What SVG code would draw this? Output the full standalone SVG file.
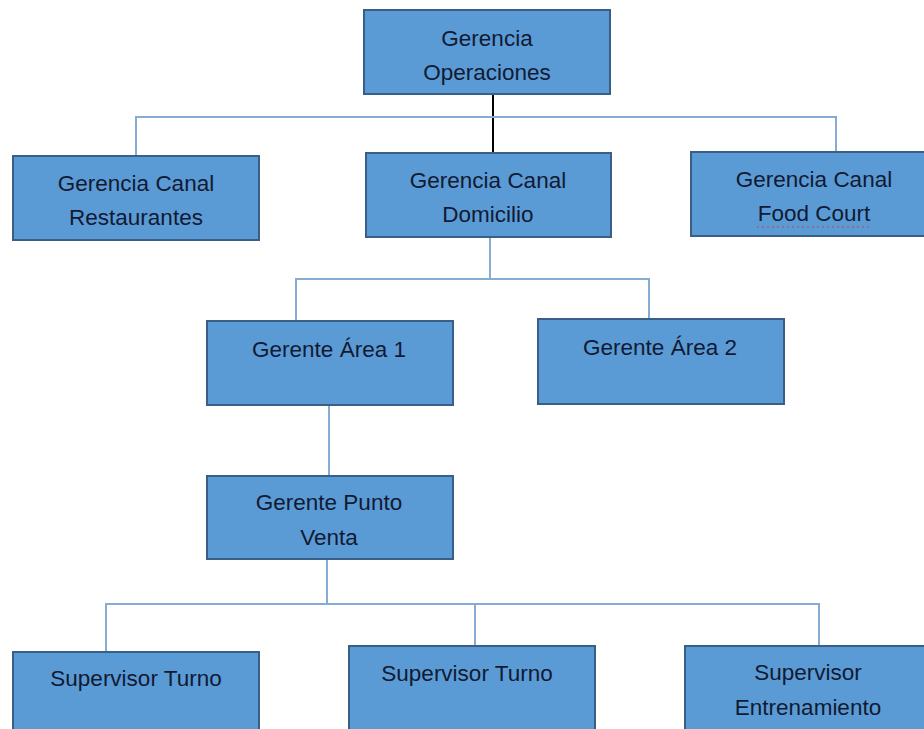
<svg xmlns="http://www.w3.org/2000/svg" width="924" height="729" viewBox="0 0 924 729">
<style>
.box{fill:#5b9bd5;stroke:#3a5f86;stroke-width:2}
.t{font-family:"Liberation Sans",Arial,sans-serif;font-size:22.5px;fill:#111a33;text-anchor:middle}
.c{stroke:#86acd4;stroke-width:2;fill:none}
.k{stroke:#000;stroke-width:2;fill:none}
</style>
<rect width="924" height="729" fill="#fff"/>
<g id="connectors">
<line class="k" x1="493" y1="94" x2="493" y2="153"/>
<polyline class="c" points="136,156 136,117 836,117 836,152"/>
<line class="c" x1="490" y1="237" x2="490" y2="279"/>
<polyline class="c" points="296,321 296,279 649,279 649,319"/>
<line class="c" x1="329" y1="405" x2="329" y2="476"/>
<line class="c" x1="327" y1="559" x2="327" y2="604"/>
<polyline class="c" points="106,652 106,604 819,604 819,646"/>
<line class="c" x1="475" y1="604" x2="475" y2="646"/>
</g>
<g id="gerencia-operaciones">
<rect class="box" x="364" y="10" width="246" height="84"/>
<text class="t" x="487" y="46">Gerencia</text>
<text class="t" x="487" y="80">Operaciones</text>
</g>
<g id="canal-restaurantes">
<rect class="box" x="13" y="156" width="246" height="84"/>
<text class="t" x="136" y="191">Gerencia Canal</text>
<text class="t" x="136" y="225">Restaurantes</text>
</g>
<g id="canal-domicilio">
<rect class="box" x="366" y="153" width="245" height="84"/>
<text class="t" x="488" y="188">Gerencia Canal</text>
<text class="t" x="488" y="222">Domicilio</text>
</g>
<g id="canal-food-court">
<rect class="box" x="691" y="152" width="240" height="84"/>
<text class="t" x="814" y="187">Gerencia Canal</text>
<text class="t" x="814" y="221">Food Court</text>
<line x1="757" y1="227" x2="872" y2="227" stroke="#d04040" stroke-width="1.2" stroke-dasharray="2,3"/>
</g>
<g id="gerente-area-1">
<rect class="box" x="207" y="321" width="246" height="84"/>
<text class="t" x="329" y="357">Gerente Área 1</text>
</g>
<g id="gerente-area-2">
<rect class="box" x="538" y="319" width="246" height="85"/>
<text class="t" x="660" y="355">Gerente Área 2</text>
</g>
<g id="gerente-punto-venta">
<rect class="box" x="207" y="476" width="246" height="83"/>
<text class="t" x="329" y="510">Gerente Punto</text>
<text class="t" x="329" y="545">Venta</text>
</g>
<g id="supervisor-turno-1">
<rect class="box" x="13" y="652" width="246" height="90"/>
<text class="t" x="136" y="686">Supervisor Turno</text>
</g>
<g id="supervisor-turno-2">
<rect class="box" x="349" y="646" width="246" height="96"/>
<text class="t" x="467" y="681">Supervisor Turno</text>
</g>
<g id="supervisor-entrenamiento">
<rect class="box" x="685" y="646" width="246" height="96"/>
<text class="t" x="808" y="680">Supervisor</text>
<text class="t" x="808" y="715">Entrenamiento</text>
</g>
</svg>
